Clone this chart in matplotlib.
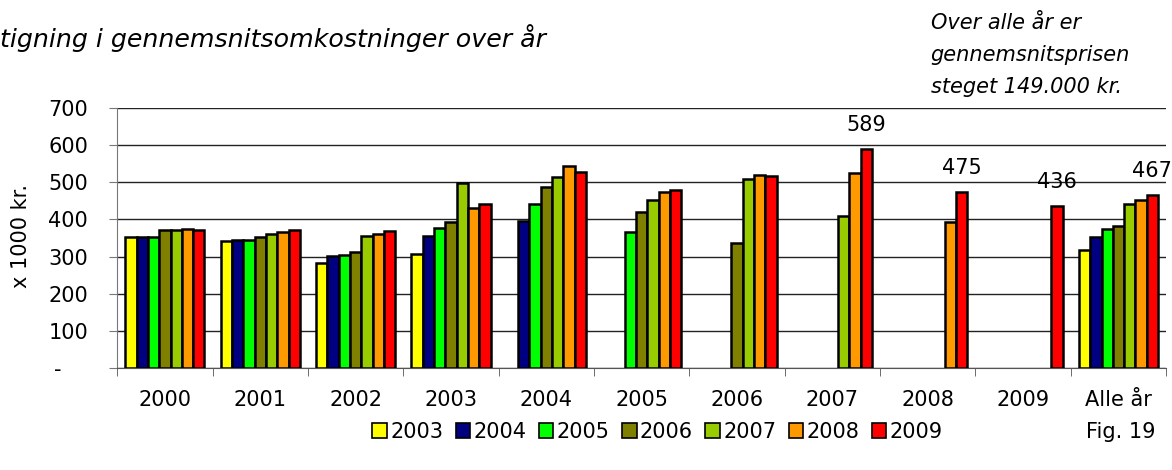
import numpy as np
import matplotlib
matplotlib.use('Agg')
import matplotlib.pyplot as plt
from matplotlib.patches import Patch

# Categories and series (values in 1000 kr.)
categories = ['2000', '2001', '2002', '2003', '2004', '2005', '2006', '2007', '2008', '2009', 'Alle år']
series_names = ['2003', '2004', '2005', '2006', '2007', '2008', '2009']
series_colors = ['#FFFF00', '#000080', '#00FF00', '#808000', '#99CC00', '#FF9900', '#FF0000']

nan = np.nan
s2003 = [354, 341, 282, 308, nan, nan, nan, nan, nan, nan, 318]
s2004 = [353, 346, 303, 356, 396, nan, nan, nan, nan, nan, 353]
s2005 = [353, 346, 304, 378, 443, 367, nan, nan, nan, nan, 374]
s2006 = [371, 354, 313, 394, 487, 420, 337, nan, nan, nan, 383]
s2007 = [372, 362, 356, 498, 515, 452, 510, 410, nan, nan, 442]
s2008 = [375, 365, 360, 431, 543, 473, 521, 526, 392, nan, 453]
s2009 = [373, 371, 369, 443, 529, 479, 518, 589, 475, 436, 467]
all_series = [s2003, s2004, s2005, s2006, s2007, s2008, s2009]

# labels shown over the red bars
label_idx = [7, 8, 9, 10]

yticks = [0, 100, 200, 300, 400, 500, 600, 700]
ytick_labels = ['-    ', '100', '200', '300', '400', '500', '600', '700']

plt.rcParams['font.family'] = 'DejaVu Sans'
fs = 15

fig = plt.figure(figsize=(11.72, 4.70), dpi=100)
ax = fig.add_axes([0.1, 0.217, 0.895, 0.553])

x = np.arange(len(categories))
n = len(all_series)
group_w = 0.83
bw = group_w / n
for i, (vals, col) in enumerate(zip(all_series, series_colors)):
    pos = x - group_w / 2 + bw * (i + 0.5)
    ax.bar(pos, vals, width=bw, color=col, edgecolor='black', linewidth=1.8, zorder=3)

red_pos = x - group_w / 2 + bw * (n - 0.5)
for j in label_idx:
    ax.text(red_pos[j], s2009[j] + 38, f'{s2009[j]}', ha='center', va='bottom', fontsize=fs)

ax.set_xlim(-0.5, len(categories) - 0.5)
ax.set_ylim(0, 700)
ax.set_yticks(yticks)
ax.set_yticklabels(ytick_labels, fontsize=fs)
ax.yaxis.grid(True, color='#222222', linewidth=1.0, zorder=0)
ax.tick_params(axis='y', length=6, color='#777777', pad=15)

ax.set_xticks(x)
ax.set_xticklabels(categories, fontsize=fs)
ax.tick_params(axis='x', which='major', length=0, pad=16)
ax.set_xticks(np.arange(-0.5, len(categories), 1.0), minor=True)
ax.tick_params(axis='x', which='minor', length=6, color='#555555')

for side in ['top', 'right']:
    ax.spines[side].set_visible(False)
ax.spines['left'].set_color('#777777')
ax.spines['bottom'].set_color('#555555')

fig.text(0.018, 0.497, 'x 1000 kr.', fontsize=fs, rotation=90, ha='center', va='center')

fig.text(0.0, 0.918, 'tigning i gennemsnitsomkostninger over år', fontsize=18.2, style='italic',
         ha='left', va='center')
fig.text(0.794, 0.972, 'Over alle år er\ngennemsnitsprisen\nsteget 149.000 kr.', fontsize=fs,
         style='italic', ha='left', va='top', linespacing=1.75)

handles = [Patch(facecolor=c, edgecolor='black', linewidth=1.2, label=s)
           for c, s in zip(series_colors, series_names)]
fig.legend(handles=handles, loc='center', bbox_to_anchor=(0.561, 0.081), ncol=7, frameon=False,
           fontsize=fs, handlelength=0.7, handleheight=0.7, handletextpad=0.15, columnspacing=0.6)
fig.text(0.956, 0.081, 'Fig. 19', fontsize=fs, ha='center', va='center')

fig.savefig('out.png', dpi=100)
